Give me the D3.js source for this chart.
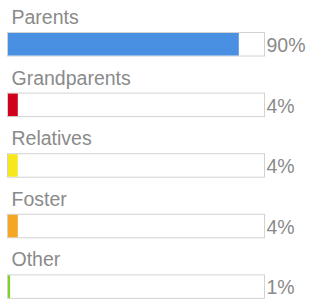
<!DOCTYPE html>
<html lang="en">
<head>
    <meta charset="UTF-8">
    <title>Living arrangements</title>
    <style>
        body {
            margin: 0;
            padding: 0;
            background: #ffffff;
            font-family: "Liberation Sans", Arial, sans-serif;
        }
        svg text {
            fill: #8a8a8a;
            font-size: 19.5px;
        }
    </style>
</head>
<body>
    <div id="chart"></div>
    <script src="https://d3js.org/d3.v7.min.js"></script>
    <script>
        // Data
        const categories = ['Parents', 'Grandparents', 'Relatives', 'Foster', 'Other'];
        const values = [90, 4, 4, 4, 1];
        const colors = ['#4a90e2', '#d0021b', '#f8e71c', '#f5a623', '#7ed321'];

        const width = 309, height = 300;
        const barHeight = 23.5;

        const svg = d3.select('#chart')
            .append('svg')
            .attr('width', width)
            .attr('height', height);

        // one band per row: label sits above the bar
        const yScale = d3.scaleBand()
            .domain(categories)
            .range([8, 8 + 60.6 * categories.length]);

        const xScale = d3.scaleLinear()
            .domain([0, 100])
            .range([7.5, 264.5]);

        const rows = svg.selectAll('.row')
            .data(categories.map((c, i) => ({ name: c, value: values[i], color: colors[i] })))
            .join('g')
            .attr('class', 'row')
            .attr('transform', d => `translate(0,${yScale(d.name)})`);

        rows.append('text')
            .attr('x', 11.5)
            .attr('y', 16)
            .text(d => d.name);

        // outlined track
        rows.append('rect')
            .attr('x', xScale(0))
            .attr('y', 24.5)
            .attr('width', xScale(100) - xScale(0))
            .attr('height', barHeight)
            .attr('fill', '#ffffff')
            .attr('stroke', '#d2d2d2')
            .attr('stroke-width', 1);

        // filled part
        rows.append('rect')
            .attr('x', xScale(0) + 0.5)
            .attr('y', 25)
            .attr('width', d => Math.max(0, xScale(d.value) - xScale(0) - 0.5))
            .attr('height', barHeight - 1)
            .attr('fill', d => d.color);

        rows.append('text')
            .attr('x', 266.5)
            .attr('y', 44)
            .text(d => d.value + '%');
    </script>
</body>
</html>
